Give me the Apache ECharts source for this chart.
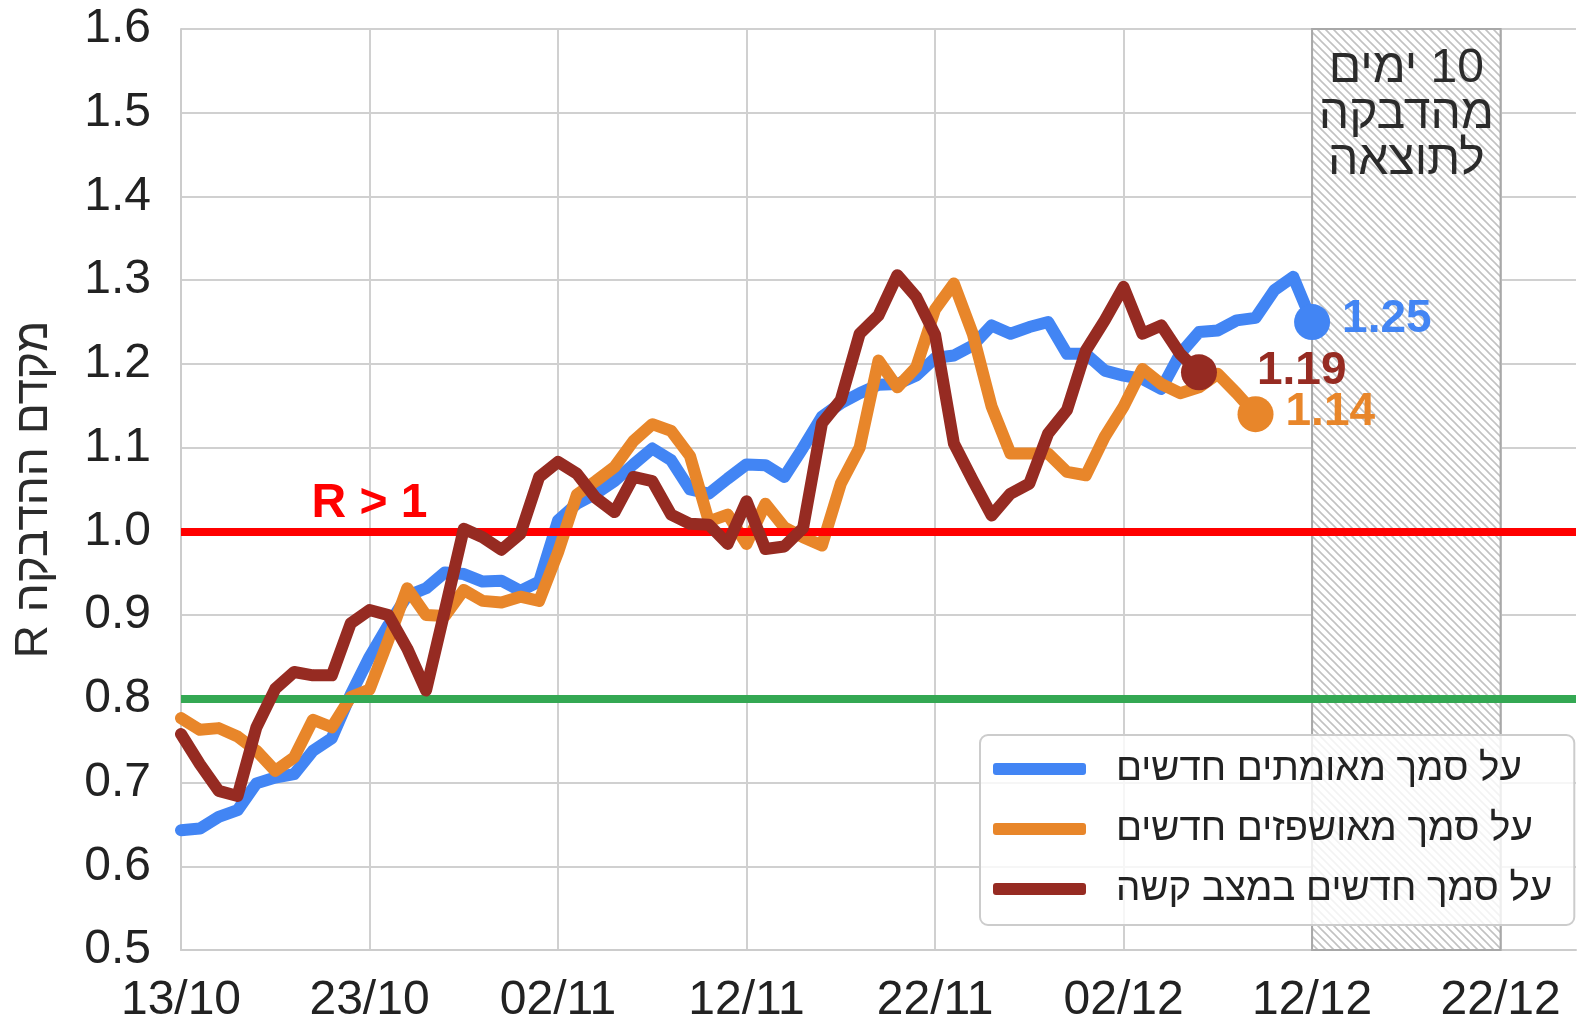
<!DOCTYPE html>
<html>
<head>
<meta charset="utf-8">
<script src="https://cdn.jsdelivr.net/npm/echarts@6/dist/echarts.min.js"></script>
<style>
html, body { margin: 0; padding: 0; background: #fff; }
#grafico { width: 1580px; height: 1019px; }
</style>
</head>
<body>
<div id="grafico"></div>
<script>
// tick labels of the x axis, one every 10 days from 13/10
var datas = ['13/10', '23/10', '02/11', '12/11', '22/11', '02/12', '12/12', '22/12'];

// daily R values, day 0 = 13/10
var confirmados = [
    0.643, 0.645, 0.659, 0.667, 0.699, 0.706, 0.710, 0.738, 0.753, 0.805,
    0.850, 0.888, 0.923, 0.932, 0.951, 0.949, 0.940, 0.941, 0.929, 0.940,
    1.013, 1.033, 1.045, 1.060, 1.080, 1.099, 1.085, 1.050, 1.045, 1.063,
    1.080, 1.079, 1.065, 1.100, 1.137, 1.153, 1.165, 1.175, 1.176, 1.186,
    1.207, 1.210, 1.222, 1.246, 1.236, 1.244, 1.250, 1.212, 1.212, 1.192,
    1.186, 1.182, 1.170, 1.212, 1.238, 1.240, 1.252, 1.255, 1.288, 1.304,
    1.25
];
var hospitalizados = [
    0.777, 0.763, 0.765, 0.755, 0.738, 0.714, 0.730, 0.775, 0.766, 0.802,
    0.811, 0.870, 0.932, 0.900, 0.899, 0.930, 0.917, 0.915, 0.922, 0.917,
    0.975, 1.044, 1.060, 1.077, 1.108, 1.128, 1.120, 1.090, 1.012, 1.020,
    0.985, 1.033, 1.005, 0.993, 0.983, 1.057, 1.100, 1.204, 1.172, 1.196,
    1.265, 1.296, 1.236, 1.149, 1.093, 1.093, 1.093, 1.071, 1.067, 1.113,
    1.149, 1.194, 1.176, 1.165, 1.172, 1.188, 1.165, 1.14
];
var graves = [
    0.758, 0.722, 0.690, 0.684, 0.766, 0.812, 0.832, 0.828, 0.828, 0.890,
    0.906, 0.900, 0.860, 0.810, 0.906, 1.003, 0.993, 0.978, 0.997, 1.065,
    1.083, 1.069, 1.040, 1.023, 1.065, 1.060, 1.020, 1.009, 1.008, 0.985,
    1.036, 0.979, 0.982, 1.004, 1.129, 1.157, 1.236, 1.258, 1.306, 1.280,
    1.235, 1.105, 1.061, 1.019, 1.045, 1.057, 1.117, 1.145, 1.216, 1.252,
    1.292, 1.236, 1.246, 1.212, 1.19
];

var nomes = ['על סמך מאומתים חדשים', 'על סמך מאושפזים חדשים', 'על סמך חדשים במצב קשה'];
var limites = [1.0, 0.8];
var janela = [60, 70]; // 12/12 .. 22/12
var fonte = '"Liberation Sans", Arial, sans-serif';

// diagonal hatch for the 10 days window
function hachura() {
    var c = document.createElement('canvas');
    c.width = 8;
    c.height = 8;
    var ctx = c.getContext('2d');
    ctx.fillStyle = '#ffffff';
    ctx.fillRect(0, 0, 8, 8);
    ctx.strokeStyle = '#c2c2c2';
    ctx.lineWidth = 1.6;
    ctx.beginPath();
    ctx.moveTo(-1, -1); ctx.lineTo(9, 9);
    ctx.moveTo(-1, 7); ctx.lineTo(1, 9);
    ctx.moveTo(7, -1); ctx.lineTo(9, 1);
    ctx.stroke();
    return c;
}

function montaSerie(nome, valores, cor, distancia, deslocY, z) {
    var pontos = valores.map(function (v, i) { return [i, v]; });
    var ultimo = pontos.length - 1;
    pontos[ultimo] = {
        value: pontos[ultimo],
        symbol: 'circle',
        symbolSize: 36,
        label: {
            show: true,
            position: 'right',
            distance: distancia,
            offset: [0, deslocY],
            formatter: function (p) { return p.value[1].toFixed(2); },
            color: cor,
            fontSize: 46,
            fontWeight: 'bold',
            fontFamily: fonte
        }
    };
    return {
        name: nome,
        type: 'line',
        data: pontos,
        symbol: 'none',
        z: z,
        lineStyle: { width: 12, color: cor, cap: 'round', join: 'round' },
        itemStyle: { color: cor },
        emphasis: { disabled: true }
    };
}

var myChart = echarts.init(document.getElementById('grafico'));

var series_grafico = [];

series_grafico.push({
    name: 'limites',
    type: 'line',
    data: [],
    z: 1,
    markLine: {
        silent: true,
        symbol: 'none',
        label: { show: false },
        data: [
            { yAxis: limites[0], lineStyle: { color: '#ff0000', width: 8, type: 'solid' } },
            { yAxis: limites[1], lineStyle: { color: '#34a853', width: 8, type: 'solid' } }
        ]
    },
    markArea: {
        silent: true,
        itemStyle: {
            color: { image: hachura(), repeat: 'repeat' },
            borderColor: '#a8a8a8',
            borderWidth: 2
        },
        label: {
            show: true,
            position: 'insideTop',
            distance: 18,
            formatter: '\u200F10 ימים\nמהדבקה\nלתוצאה',
            color: '#2b2b2b',
            fontSize: 48,
            lineHeight: 46,
            fontFamily: fonte
        },
        data: [[{ xAxis: janela[0] }, { xAxis: janela[1] }]]
    },
    markPoint: {
        silent: true,
        symbol: 'circle',
        symbolSize: 0,
        label: {
            show: true,
            position: 'top',
            distance: 4,
            formatter: 'R > 1',
            color: '#ff0000',
            fontSize: 48,
            fontWeight: 'bold',
            fontFamily: fonte
        },
        data: [{ coord: [10, limites[0]] }]
    }
});

series_grafico.push(montaSerie(nomes[0], confirmados, '#4285f4', 12, -3, 3));
series_grafico.push(montaSerie(nomes[1], hospitalizados, '#e8862a', 12, -2, 4));
series_grafico.push(montaSerie(nomes[2], graves, '#962b22', 40, -1, 5));

var option = {
    animation: false,
    textStyle: { fontFamily: fonte },
    grid: { left: 181, right: 4, top: 29, bottom: 69, containLabel: false, outerBoundsMode: 'none' },
    legend: {
        data: nomes,
        orient: 'vertical',
        left: 980,
        top: 735,
        icon: 'roundRect',
        itemWidth: 93,
        itemHeight: 12,
        itemGap: 16,
        padding: [12, 22, 14, 13],
        backgroundColor: 'rgba(255,255,255,0.8)',
        borderColor: '#cccccc',
        borderWidth: 2,
        borderRadius: 8,
        selectedMode: false,
        textStyle: {
            fontSize: 38.5,
            lineHeight: 44,
            color: '#222222',
            fontFamily: fonte,
            padding: [0, 0, 0, 25]
        }
    },
    xAxis: {
        type: 'value',
        min: 0,
        max: 74,
        interval: 10,
        axisLine: { show: true, lineStyle: { color: '#cccccc', width: 2 } },
        axisTick: { show: false },
        splitLine: { show: true, showMaxLine: false, lineStyle: { color: '#d0d0d0', width: 2 } },
        axisLabel: {
            formatter: function (v) { return v % 10 === 0 ? datas[v / 10] : ''; },
            showMaxLabel: false,
            fontSize: 48,
            color: '#222222',
            margin: 27
        }
    },
    yAxis: {
        type: 'value',
        min: 0.5,
        max: 1.6,
        interval: 0.1,
        name: 'R מקדם ההדבקה',
        nameLocation: 'middle',
        nameGap: 124,
        nameTextStyle: { fontSize: 46, color: '#2b2b2b', fontFamily: fonte },
        axisLine: { show: true, lineStyle: { color: '#cccccc', width: 2 } },
        axisTick: { show: false },
        splitLine: { show: true, lineStyle: { color: '#d0d0d0', width: 2 } },
        axisLabel: {
            formatter: function (v) { return v.toFixed(1); },
            fontSize: 48,
            color: '#222222',
            margin: 30
        }
    },
    series: series_grafico
};

myChart.setOption(option);
</script>
</body>
</html>
